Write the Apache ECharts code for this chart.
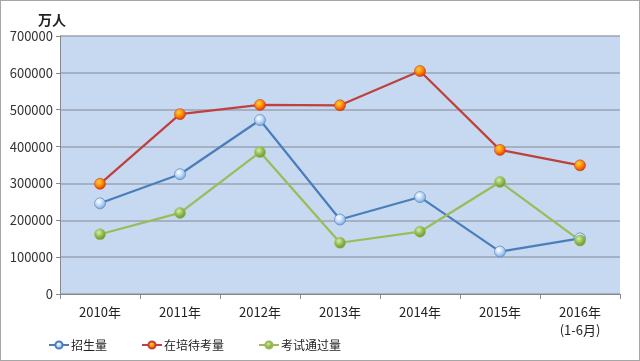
<!DOCTYPE html>
<html><head><meta charset="utf-8">
<script src="https://cdn.jsdelivr.net/npm/echarts@6/dist/echarts.min.js"></script>
<style>
html,body{margin:0;padding:0;background:#fff;}
#c{width:640px;height:361px;box-sizing:border-box;border:1px solid #a6a6a6;}
</style></head>
<body><div id="c"></div>
<script>
const categories = ['2010年','2011年','2012年','2013年','2014年','2015年','2016年\n(1-6月)'];
const enrolment = [246000, 325000, 472000, 202000, 263000, 115000, 151000];
const pending = [299000, 488000, 513000, 512000, 605000, 391000, 349000];
const passed = [162000, 220000, 385000, 139000, 169000, 304000, 145000];
const seriesNames = ['招生量','在培待考量','考试通过量'];
const unitLabel = '万人';

const font = '"Noto Sans CJK SC", "Noto Sans", sans-serif';
function grad(light, mid, dark){
  return {type:'radial', x:0.4, y:0.35, r:0.7, colorStops:[
    {offset:0, color:light},{offset:0.5, color:mid},{offset:1, color:dark}]};
}
const chart = echarts.init(document.getElementById('c'), null, {renderer:'canvas'});
function mk(name, data, lineColor, g){
  return {name, type:'line', data, symbol:'circle', symbolSize:11,
    lineStyle:{color:lineColor, width:2.2}, itemStyle:{color:g, borderColor:lineColor, borderWidth:0.6},
    color:lineColor, emphasis:{disabled:true}, animation:false};
}
chart.setOption({
  animation:false,
  title:{text:unitLabel, left:32, top:7, textStyle:{fontFamily:font, fontSize:14, fontWeight:'bold', color:'#222'}},
  grid:{left:59, right:19, top:35, bottom:66, show:true, backgroundColor:'#c6d9f1', borderWidth:0},
  legend:{bottom:4, left:42, itemGap:34, itemWidth:20, itemHeight:9,
    textStyle:{fontFamily:font, fontSize:12, color:'#222', padding:[0,0,0,-3]},
    data:seriesNames},
  xAxis:{type:'category', data:categories, boundaryGap:true,
    axisLine:{lineStyle:{color:'#8a8a8a'}}, axisTick:{show:true, length:5, lineStyle:{color:'#8a8a8a'}},
    axisLabel:{fontFamily:font, fontSize:13, color:'#222', margin:9, lineHeight:18}},
  yAxis:{type:'value', min:0, max:700000, interval:100000,
    axisLine:{show:true, lineStyle:{color:'#8a8a8a'}}, axisTick:{show:true, length:4, lineStyle:{color:'#8a8a8a'}},
    splitLine:{lineStyle:{color:'#9aa3b2', width:1.5}},
    axisLabel:{fontFamily:font, fontSize:13, color:'#333', margin:7, formatter:function(v){return String(v);}}},
  series:[
    mk(seriesNames[0], enrolment, '#4a7ebb', grad('#ffffff','#bcd6f5','#6d9fd8')),
    mk(seriesNames[1], pending, '#c0403c', grad('#ffd040','#ff8a00','#e02000')),
    mk(seriesNames[2], passed, '#9bbb59', grad('#d8ecb0','#8fbc50','#5d8a2c'))
  ]
});
</script></body></html>
